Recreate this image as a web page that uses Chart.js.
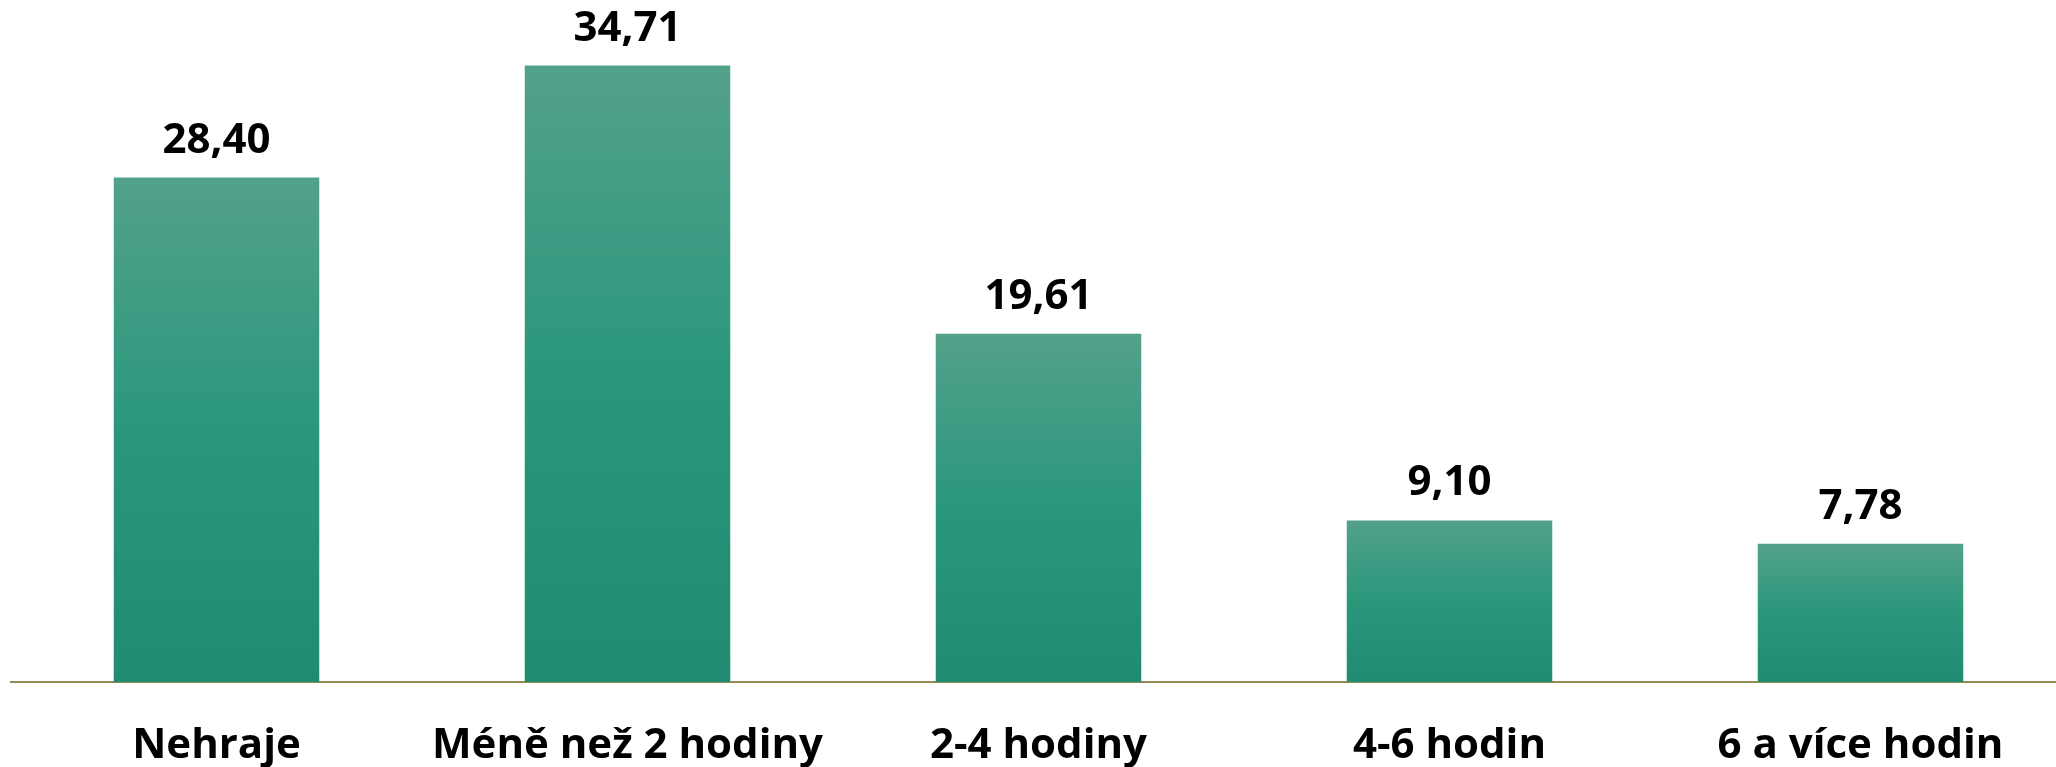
<!DOCTYPE html>
<html>
<head>
<meta charset="utf-8">
<script src="https://cdn.jsdelivr.net/npm/chart.js@4"></script>
<style>
    html, body { margin: 0; padding: 0; background: #ffffff; overflow: hidden; }
    #wrap { position: absolute; left: 0; top: 0; width: 2066px; height: 810px; }
</style>
</head>
<body>
<div id="wrap"><canvas id="hoursChart"></canvas></div>
<script>
// --- data ---
const categories = ['Nehraje', 'Méně než 2 hodiny', '2-4 hodiny', '4-6 hodin', '6 a více hodin'];
const shares = [28.40, 34.71, 19.61, 9.10, 7.78];

const fontFamily = '"Open Sans", "Liberation Sans", sans-serif';

// gradient per bar, from its top down to the baseline
function barGradient(context) {
    const chart = context.chart;
    if (!chart.chartArea) return '#2a967a';
    const y = chart.scales.y;
    const top = y.getPixelForValue(context.raw);
    const bottom = y.getPixelForValue(0);
    const g = chart.ctx.createLinearGradient(0, top, 0, bottom);
    g.addColorStop(0, '#53a18b');
    g.addColorStop(0.5, '#2a977b');
    g.addColorStop(1, '#218b72');
    return g;
}

// value labels above bars, Czech decimal comma
const valueLabels = {
    id: 'valueLabels',
    afterDatasetsDraw(chart) {
        const ctx = chart.ctx;
        const meta = chart.getDatasetMeta(0);
        ctx.save();
        ctx.font = 'bold 42px ' + fontFamily;
        ctx.fillStyle = '#000000';
        ctx.textAlign = 'center';
        ctx.textBaseline = 'alphabetic';
        meta.data.forEach((bar, i) => {
            const text = shares[i].toFixed(2).replace('.', ',');
            ctx.fillText(text, bar.x, bar.y - 25);
        });
        ctx.restore();
    }
};

new Chart(document.getElementById('hoursChart').getContext('2d'), {
    type: 'bar',
    data: {
        labels: categories,
        datasets: [{
            data: shares,
            backgroundColor: barGradient,
            borderWidth: 0,
            barPercentage: 0.5,
            categoryPercentage: 1.0
        }]
    },
    options: {
        responsive: true,
        maintainAspectRatio: false,
        animation: false,
        layout: { padding: { left: 11, right: 0, top: 0, bottom: 0 } },
        plugins: {
            legend: { display: false },
            tooltip: { enabled: false }
        },
        scales: {
            x: {
                grid: { display: false, drawTicks: false },
                border: { display: true, color: '#948a54', width: 2 },
                ticks: {
                    color: '#000000',
                    padding: 43,
                    maxRotation: 0,
                    autoSkip: false,
                    font: { family: fontFamily, size: 42, weight: 'bold', lineHeight: 1 }
                }
            },
            y: {
                display: false,
                min: 0,
                max: 38.4
            }
        }
    },
    plugins: [valueLabels]
});
</script>
</body>
</html>
